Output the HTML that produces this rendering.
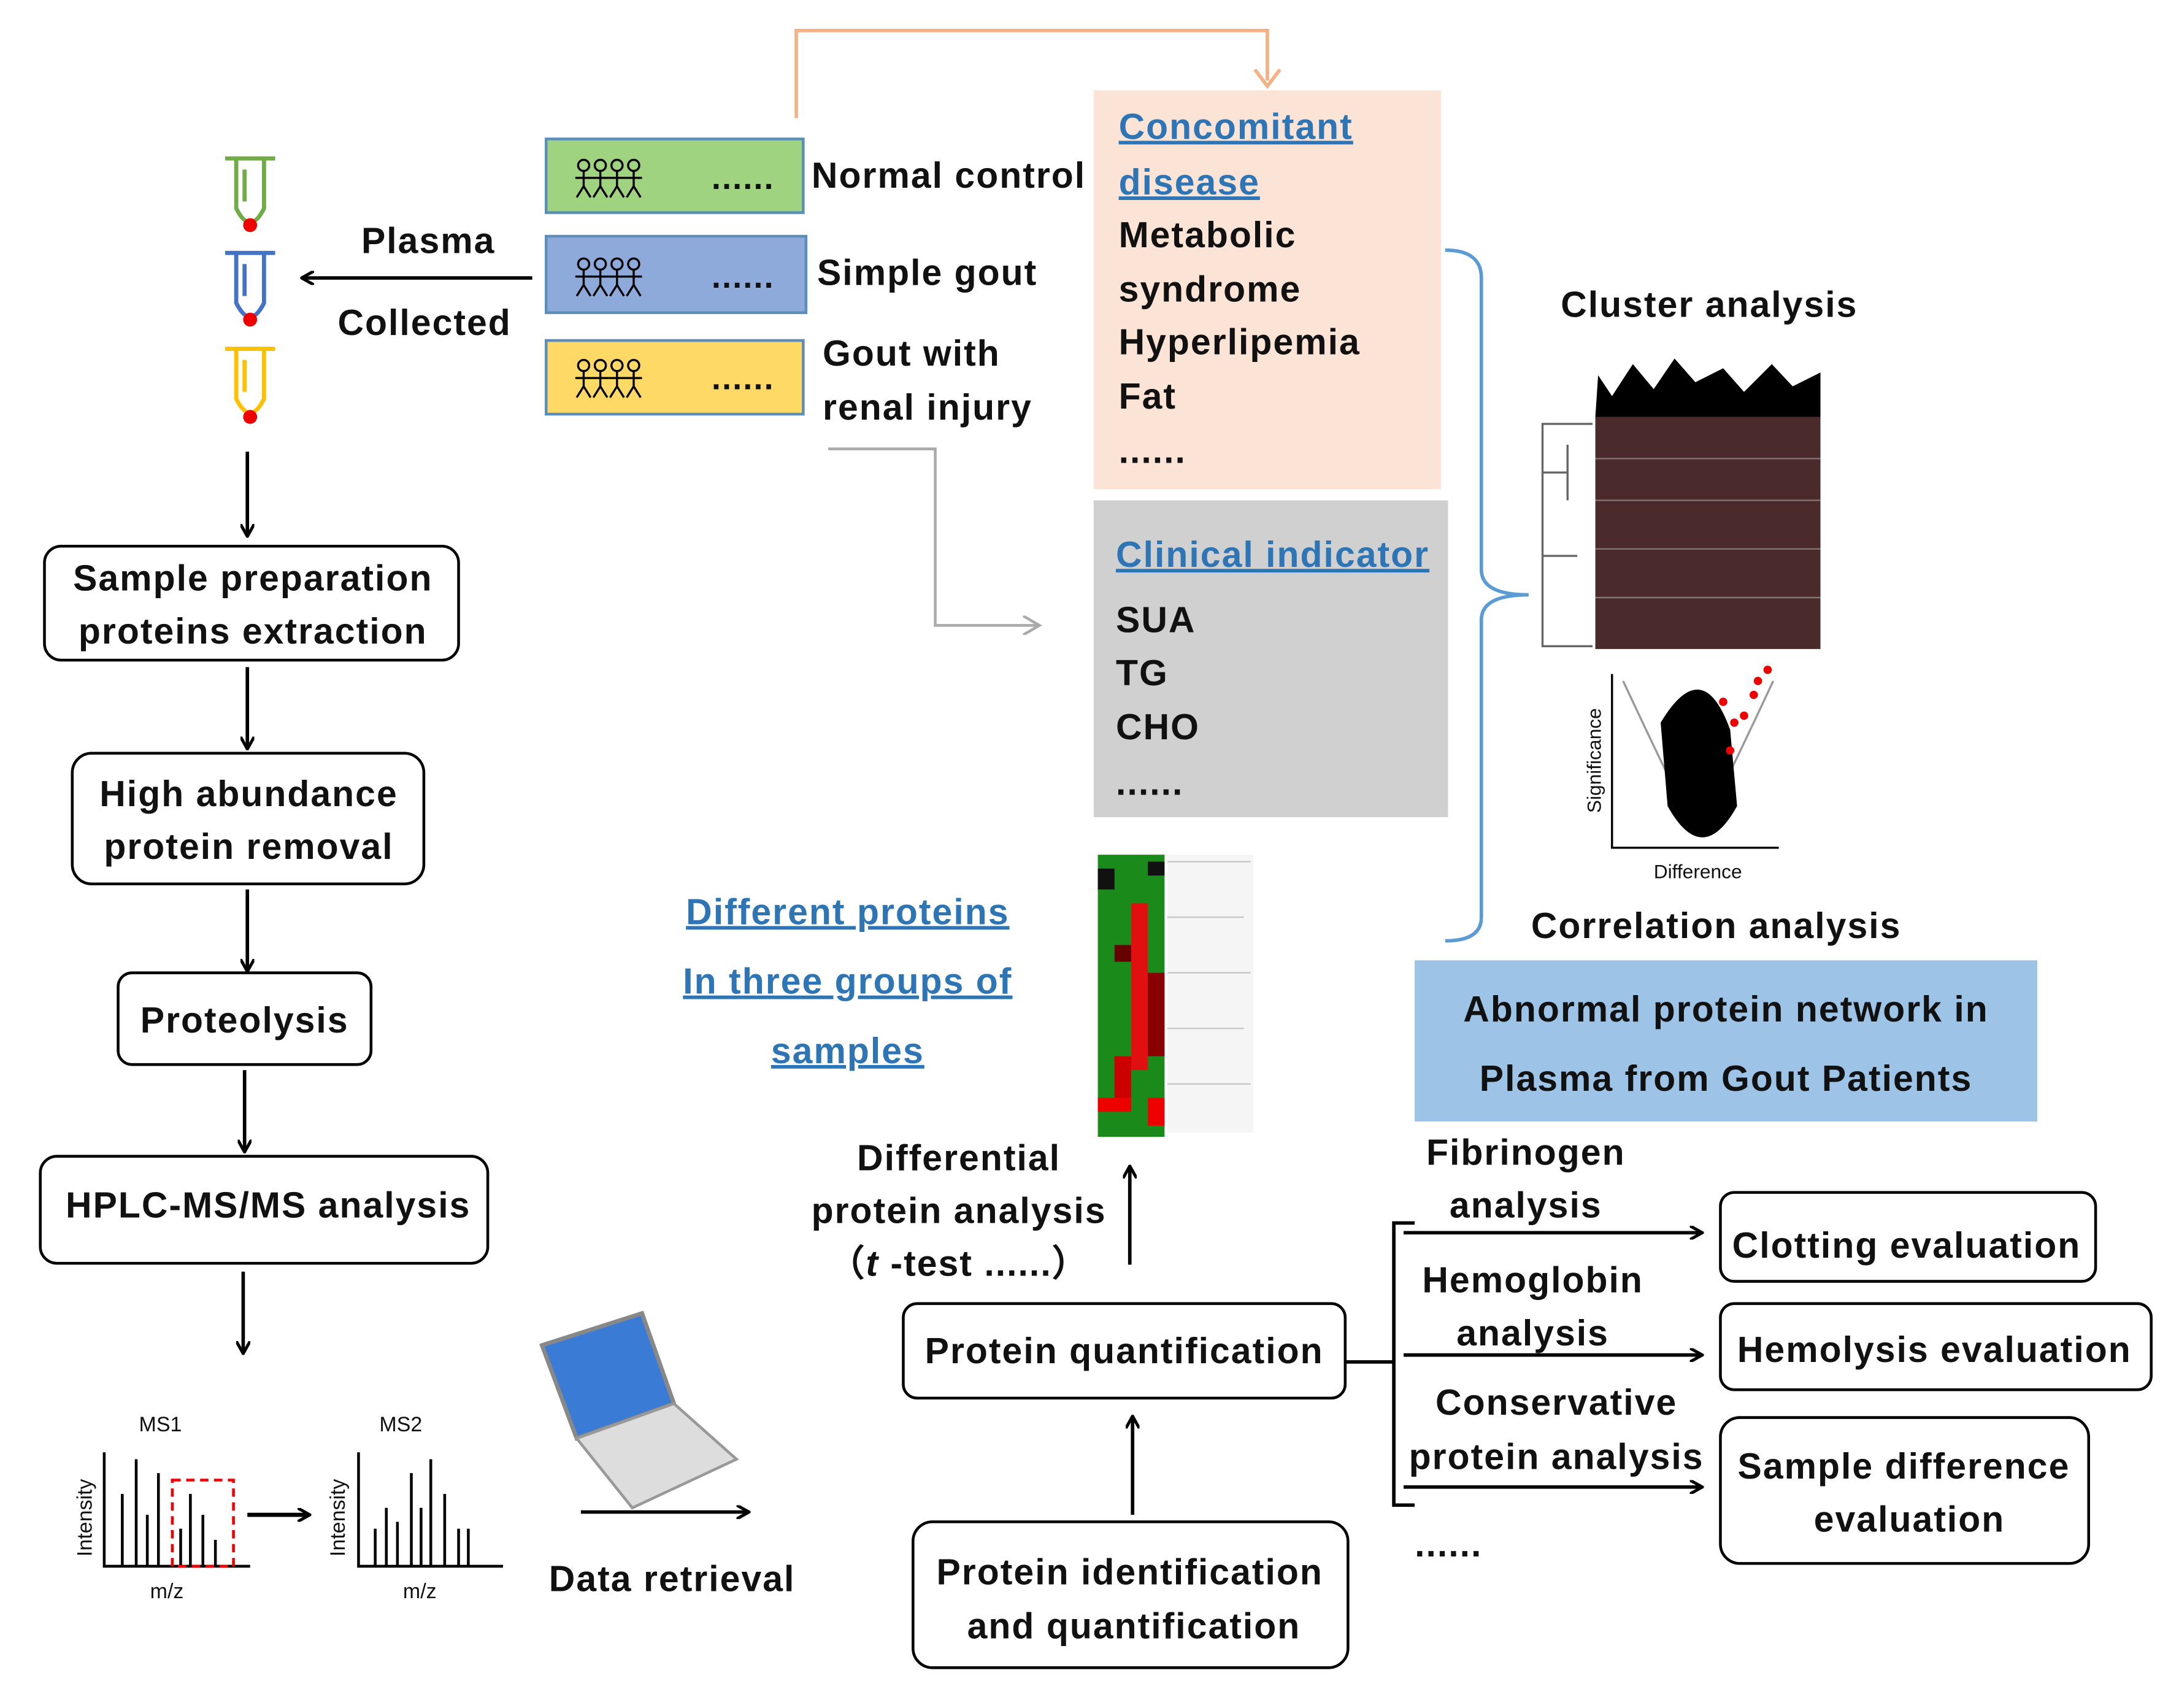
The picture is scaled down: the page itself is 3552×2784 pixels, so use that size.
<!DOCTYPE html>
<html><head><meta charset="utf-8"><style>
html,body{margin:0;padding:0;background:#fff;}
svg{display:block;}
text{font-family:"Liberation Sans",sans-serif;font-weight:bold;font-size:26px;fill:#111;letter-spacing:0.9px;}
.bl{fill:#2e75b6;text-decoration:underline;}
.sm{font-size:15px;font-weight:normal;letter-spacing:0;}
</style></head><body>
<svg width="3552" height="2784" viewBox="0 0 1568 1229" preserveAspectRatio="none" xmlns="http://www.w3.org/2000/svg">
<defs>
<marker id="ab" markerWidth="10" markerHeight="10" refX="8" refY="5" orient="auto" markerUnits="userSpaceOnUse"><path d="M0,0 L9,5 L0,10" fill="none" stroke="#000" stroke-width="2.2"/></marker>
<marker id="ag" markerWidth="14" markerHeight="14" refX="12" refY="7" orient="auto" markerUnits="userSpaceOnUse"><path d="M0,0 L12,7 L0,14" fill="none" stroke="#aaa" stroke-width="2"/></marker>
<g id="fig"><circle cx="0" cy="-9" r="4" fill="none" stroke="#000" stroke-width="1.5"/><path d="M0,-5 V6 M-6,0 H6 M0,6 L-5,14 M0,6 L5,14" stroke="#000" stroke-width="1.5" fill="none"/></g>
<g id="figs"><use href="#fig" x="0"/><use href="#fig" x="12"/><use href="#fig" x="24"/><use href="#fig" x="36"/><text x="92" y="8" style="font-size:24px">......</text></g>
</defs>

<path d="M573,85 V22 H912 V58" fill="none" stroke="#f4b183" stroke-width="2.5"/>
<path d="M903,50 L912,62 L921,50" fill="none" stroke="#f4b183" stroke-width="2.5"/>

<rect x="393" y="100" width="185" height="53" fill="#9fd37f" stroke="#5b8fb9" stroke-width="2"/>
<rect x="393" y="170" width="187" height="55" fill="#8eaadb" stroke="#5b8fb9" stroke-width="2"/>
<rect x="393" y="245" width="185" height="53" fill="#ffd966" stroke="#5b8fb9" stroke-width="2"/>
<use href="#figs" x="420" y="128"/>
<use href="#figs" x="420" y="199"/>
<use href="#figs" x="420" y="272"/>
<text x="584" y="135">Normal control</text>
<text x="588" y="205">Simple gout</text>
<text x="592" y="263">Gout with</text>
<text x="592" y="302">renal injury</text>

<text x="260" y="182">Plasma</text>
<text x="243" y="241">Collected</text>
<line x1="383" y1="200" x2="218" y2="200" stroke="#000" stroke-width="2.5" marker-end="url(#ab)"/>

<g stroke-width="3" fill="none">
<path d="M162,114 H198 M170,114 V150 Q180,170 190,150 V114 M176,122 V145" stroke="#70ad47"/>
<path d="M162,182 H198 M170,182 V218 Q180,238 190,218 V182 M176,190 V213" stroke="#4472c4"/>
<path d="M162,251 H198 M170,251 V287 Q180,307 190,287 V251 M176,259 V282" stroke="#ffc000"/>
</g>
<circle cx="180" cy="162" r="5" fill="#e00"/><circle cx="180" cy="230" r="5" fill="#e00"/><circle cx="180" cy="300" r="5" fill="#e00"/>

<g stroke="#000" stroke-width="2.5" marker-end="url(#ab)">
<line x1="178" y1="325" x2="178" y2="385"/>
<line x1="178" y1="480" x2="178" y2="538"/>
<line x1="178" y1="640" x2="178" y2="698"/>
<line x1="176" y1="770" x2="176" y2="828"/>
<line x1="175" y1="915" x2="175" y2="973"/>
<line x1="418" y1="1088" x2="538" y2="1088"/>
<line x1="815" y1="1090" x2="815" y2="1020"/>
<line x1="813" y1="910" x2="813" y2="840"/>
</g>
<g fill="#fff" stroke="#000" stroke-width="2">
<rect x="32" y="393" width="298" height="82" rx="12"/>
<rect x="52" y="542" width="253" height="94" rx="14"/>
<rect x="85" y="700" width="182" height="66" rx="10"/>
<rect x="29" y="832" width="322" height="77" rx="12"/>
<rect x="657" y="1095" width="313" height="105" rx="14"/>
<rect x="650" y="938" width="318" height="68" rx="10"/>
<rect x="1238" y="858" width="270" height="64" rx="10"/>
<rect x="1238" y="938" width="310" height="62" rx="10"/>
<rect x="1238" y="1020" width="265" height="105" rx="14"/>
</g>
<g text-anchor="middle">
<text x="182" y="425">Sample preparation</text>
<text x="182" y="463">proteins extraction</text>
<text x="179" y="580">High abundance</text>
<text x="179" y="618">protein removal</text>
<text x="176" y="743">Proteolysis</text>
<text x="193" y="876">HPLC-MS/MS analysis</text>
<text x="813" y="1140">Protein identification</text>
<text x="816" y="1179">and quantification</text>
<text x="809" y="981">Protein  quantification</text>
<text x="1372" y="905">Clotting evaluation</text>
<text x="1392" y="980">Hemolysis evaluation</text>
<text x="1370" y="1064">Sample difference</text>
<text x="1374" y="1102">evaluation</text>
<text x="690" y="842">Differential</text>
<text x="690" y="880">protein analysis</text>
<text x="690" y="918">（<tspan font-style="italic">t</tspan> -test ......）</text>
<text x="610" y="665" class="bl">Different proteins</text>
<text x="610" y="715" class="bl">In three groups of</text>
<text x="610" y="765" class="bl">samples</text>
<text x="1230" y="228">Cluster analysis</text>
<text x="1235" y="675">Correlation analysis</text>
<text x="1098" y="838">Fibrinogen</text>
<text x="1098" y="876">analysis</text>
<text x="1103" y="930">Hemoglobin</text>
<text x="1103" y="968">analysis</text>
<text x="1120" y="1018">Conservative</text>
<text x="1120" y="1057">protein analysis</text>
</g>
<text x="1018" y="1120">......</text>
<text x="395" y="1145">Data retrieval</text>

<g stroke="#000" stroke-width="2" fill="none">
<path d="M75,1045 V1127 H180"/>
<path d="M258,1045 V1127 H362"/>
<path d="M88,1127 V1075 M98,1127 V1050 M106,1127 V1090 M114,1127 V1060 M130,1127 V1100 M137,1127 V1075 M146,1127 V1090 M155,1127 V1108"/>
<path d="M270,1127 V1100 M278,1127 V1085 M286,1127 V1095 M296,1127 V1060 M303,1127 V1085 M310,1127 V1050 M320,1127 V1075 M330,1127 V1100 M337,1127 V1100"/>
</g>
<rect x="124" y="1065" width="44" height="62" fill="none" stroke="#e00" stroke-width="2" stroke-dasharray="6,4"/>
<line x1="178" y1="1090" x2="222" y2="1090" stroke="#000" stroke-width="3" marker-end="url(#ab)"/>
<text x="100" y="1030" class="sm">MS1</text><text x="273" y="1030" class="sm">MS2</text>
<text x="108" y="1150" class="sm">m/z</text><text x="290" y="1150" class="sm">m/z</text>
<text x="0" y="0" class="sm" transform="translate(66,1120) rotate(-90)">Intensity</text>
<text x="0" y="0" class="sm" transform="translate(248,1120) rotate(-90)">Intensity</text>

<path d="M390,968 L462,945 L485,1010 L415,1035 Z" fill="#3a7bd5" stroke="#888" stroke-width="3"/>
<path d="M415,1035 L485,1010 L530,1050 L455,1085 Z" fill="#ddd" stroke="#999" stroke-width="2"/>

<path d="M596,323 H673 V450 H748" fill="none" stroke="#aaa" stroke-width="2" marker-end="url(#ag)"/>

<rect x="787" y="65" width="250" height="287" fill="#fbe4d5"/>
<text x="805" y="100" class="bl">Concomitant</text>
<text x="805" y="140" class="bl">disease</text>
<text x="805" y="178">Metabolic</text>
<text x="805" y="217">syndrome</text>
<text x="805" y="255">Hyperlipemia</text>
<text x="805" y="294">Fat</text>
<text x="805" y="333">......</text>
<rect x="787" y="360" width="255" height="228" fill="#d0d0d0"/>
<text x="803" y="408" class="bl">Clinical indicator</text>
<text x="803" y="455">SUA</text>
<text x="803" y="493">TG</text>
<text x="803" y="532">CHO</text>
<text x="803" y="572">......</text>

<path d="M1040,180 Q1066,180 1066,200 V410 Q1066,428 1100,428 Q1066,428 1066,446 V660 Q1066,677 1040,677" fill="none" stroke="#5b9bd5" stroke-width="2.5"/>

<rect x="1148" y="300" width="162" height="167" fill="#4a2a2a"/>
<path d="M1148,300 L1150,270 L1160,285 L1175,262 L1190,280 L1205,258 L1220,275 L1240,265 L1255,282 L1275,262 L1290,278 L1310,268 V300 Z" fill="#000"/>
<g stroke="#aaa" stroke-width="1" opacity="0.6">
<line x1="1148" y1="330" x2="1310" y2="330"/><line x1="1148" y1="360" x2="1310" y2="360"/><line x1="1148" y1="395" x2="1310" y2="395"/><line x1="1148" y1="430" x2="1310" y2="430"/>
</g>
<path d="M1146,305 H1110 V465 H1146 M1110,340 H1128 M1110,400 H1135 M1128,320 V360" fill="none" stroke="#666" stroke-width="1.5"/>

<path d="M1160,485 V610 H1280" fill="none" stroke="#000" stroke-width="1.5"/>
<path d="M1168,490 Q1210,580 1222,600 Q1234,580 1276,490" fill="none" stroke="#999" stroke-width="1.5"/>
<path d="M1195,520 Q1225,470 1245,525 L1250,580 Q1225,625 1200,580 Z" fill="#000"/>
<g fill="#e00"><circle cx="1240" cy="505" r="3"/><circle cx="1248" cy="520" r="3"/><circle cx="1265" cy="490" r="3"/><circle cx="1272" cy="482" r="3"/><circle cx="1255" cy="515" r="3"/><circle cx="1245" cy="540" r="3"/><circle cx="1262" cy="500" r="3"/></g>
<text x="1190" y="632" class="sm" style="font-size:14px">Difference</text>
<text x="0" y="0" class="sm" style="font-size:14px" transform="translate(1152,585) rotate(-90)">Significance</text>

<rect x="790" y="615" width="48" height="203" fill="#1a8a1a"/>
<rect x="814" y="650" width="12" height="120" fill="#e01010"/>
<rect x="826" y="700" width="12" height="60" fill="#800"/>
<rect x="790" y="625" width="12" height="15" fill="#111"/>
<rect x="802" y="760" width="12" height="30" fill="#c00"/>
<rect x="790" y="790" width="24" height="10" fill="#e00"/>
<rect x="826" y="620" width="12" height="10" fill="#111"/>
<rect x="802" y="680" width="12" height="12" fill="#600"/>
<rect x="826" y="790" width="12" height="20" fill="#e00"/>
<g stroke="#bbb" stroke-width="1"><line x1="840" y1="620" x2="900" y2="620"/><line x1="840" y1="660" x2="895" y2="660"/><line x1="840" y1="700" x2="900" y2="700"/><line x1="840" y1="740" x2="895" y2="740"/><line x1="840" y1="780" x2="900" y2="780"/></g>
<rect x="840" y="615" width="62" height="200" fill="#ddd" opacity="0.3"/>

<rect x="1018" y="691" width="448" height="116" fill="#9dc3e6"/>
<text x="1242" y="735" text-anchor="middle">Abnormal protein network in</text>
<text x="1242" y="785" text-anchor="middle">Plasma from Gout Patients</text>

<path d="M968,980 H1003 M1018,880 H1003 V1083 H1018" fill="none" stroke="#000" stroke-width="2.5"/>
<g stroke="#000" stroke-width="2.5" marker-end="url(#ab)">
<line x1="1010" y1="887" x2="1224" y2="887"/>
<line x1="1010" y1="975" x2="1224" y2="975"/>
<line x1="1010" y1="1070" x2="1224" y2="1070"/>
</g>
</svg>
</body></html>
